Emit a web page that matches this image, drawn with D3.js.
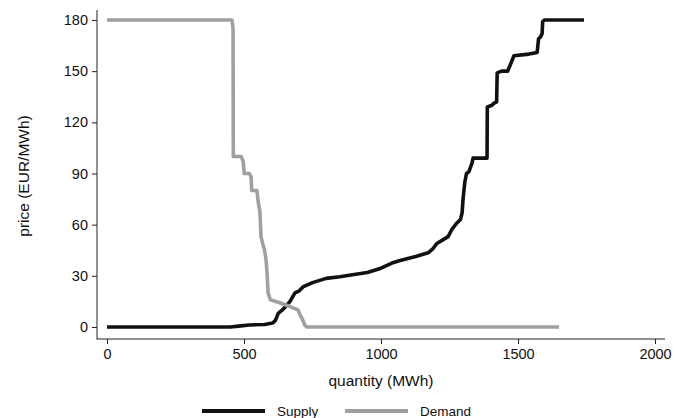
<!DOCTYPE html>
<html>
<head>
<meta charset="utf-8">
<script src="https://cdn.jsdelivr.net/npm/d3@7"></script>
<style>
  html, body { margin: 0; padding: 0; background: #fff; }
  svg { display: block; font-family: "Liberation Sans", Arial, Helvetica, sans-serif; }
</style>
</head>
<body>
<svg id="chart" width="675" height="418"></svg>
<script>
// ---- data ----
const supplyQ = [0, 450, 480, 520, 575, 605, 615, 625, 640, 652, 668, 686, 700, 715, 750, 800, 850, 890, 950, 1000, 1040, 1070, 1130, 1172, 1190, 1204, 1230, 1245, 1258, 1277, 1290, 1296, 1300, 1306, 1312, 1321, 1325, 1332, 1336, 1387, 1388, 1405, 1410, 1422, 1424, 1440, 1462, 1470, 1480, 1485, 1540, 1570, 1575, 1582, 1588, 1590, 1596, 1741];
const supplyP = [0, 0, 0.5, 1.2, 1.5, 2.3, 4, 8, 10, 12, 15, 20, 21, 23.5, 26, 28.5, 29.5, 30.5, 32, 34.5, 37.5, 39, 41.5, 43.5, 46, 49, 51.5, 53, 57, 61, 63, 67, 76, 85, 90, 91, 93, 96, 99, 99, 129, 130, 131, 132, 149, 150, 150, 153, 157, 159, 160, 161, 169, 170, 172, 179, 180, 180];

const demandQ = [0, 456, 460, 461, 490, 497, 501, 520, 526, 528, 547, 553, 558, 562, 568, 575, 580, 584, 588, 596, 625, 668, 697, 705, 712, 722, 730, 1650];
const demandP = [180, 180, 175, 100, 100, 97, 90, 90, 88, 80, 80, 72, 68, 53, 49, 45, 40, 32, 20, 16, 14.5, 12, 10, 7, 5, 1, 0, 0];

const xTicks = [0, 500, 1000, 1500, 2000];
const yTicks = [0, 30, 60, 90, 120, 150, 180];

const seriesNames = ["Supply", "Demand"];
const seriesColors = ["#111111", "#a0a0a0"];

// ---- layout ----
const svg = d3.select("#chart");
const x = d3.scaleLinear().domain([0, 2000]).range([107, 655]);
const y = d3.scaleLinear().domain([0, 180]).range([327, 20]);

const axisColor = "#222";
const fontSize = 14.5;
const fmt = d3.format("d");

// y axis
const yAxis = svg.append("g").attr("transform", "translate(97,0)")
  .call(d3.axisLeft(y).tickValues(yTicks).tickFormat(fmt).tickSize(5).tickPadding(4));
yAxis.select(".domain").remove();
yAxis.append("line").attr("x1", 0).attr("x2", 0).attr("y1", 10).attr("y2", 339.5)
  .attr("stroke", axisColor);
yAxis.selectAll(".tick line").attr("stroke", axisColor);
yAxis.selectAll(".tick text").attr("font-size", fontSize).attr("fill", "#111")
  .attr("font-family", "Liberation Sans, Arial, sans-serif");

// x axis
const xAxis = svg.append("g").attr("transform", "translate(0,339)")
  .call(d3.axisBottom(x).tickValues(xTicks).tickFormat(fmt).tickSize(5).tickPadding(5));
xAxis.select(".domain").remove();
xAxis.append("line").attr("x1", 97).attr("x2", 665).attr("y1", 0).attr("y2", 0)
  .attr("stroke", axisColor);
xAxis.selectAll(".tick line").attr("stroke", axisColor);
xAxis.selectAll(".tick text").attr("font-size", fontSize).attr("fill", "#111")
  .attr("font-family", "Liberation Sans, Arial, sans-serif");

// titles
svg.append("text").attr("x", 381).attr("y", 386).attr("text-anchor", "middle")
  .attr("font-size", 15.5).attr("fill", "#111").text("quantity (MWh)");
svg.append("text").attr("transform", "translate(29,176) rotate(-90)")
  .attr("text-anchor", "middle").attr("font-size", 15.5).attr("fill", "#111")
  .text("price (EUR/MWh)");

// lines
const line = d3.line().x(d => x(d[0])).y(d => y(d[1]));
const supply = supplyQ.map((q, i) => [q, supplyP[i]]);
const demand = demandQ.map((q, i) => [q, demandP[i]]);

svg.append("path").datum(supply).attr("d", line)
  .attr("fill", "none").attr("stroke", seriesColors[0]).attr("stroke-width", 3.6)
  .attr("stroke-linejoin", "round").attr("stroke-linecap", "butt");
svg.append("path").datum(demand).attr("d", line)
  .attr("fill", "none").attr("stroke", seriesColors[1]).attr("stroke-width", 3.6)
  .attr("stroke-linejoin", "round").attr("stroke-linecap", "butt");

// legend
const legendY = 411;
const legendItems = [
  { name: seriesNames[0], color: seriesColors[0], x1: 202, x2: 265, tx: 277 },
  { name: seriesNames[1], color: seriesColors[1], x1: 345, x2: 408, tx: 420 }
];
const lg = svg.append("g");
legendItems.forEach(it => {
  lg.append("line").attr("x1", it.x1).attr("x2", it.x2).attr("y1", legendY).attr("y2", legendY)
    .attr("stroke", it.color).attr("stroke-width", 4);
  lg.append("text").attr("x", it.tx).attr("y", legendY + 5).attr("font-size", 13.5)
    .attr("fill", "#111").text(it.name);
});
</script>
</body>
</html>
